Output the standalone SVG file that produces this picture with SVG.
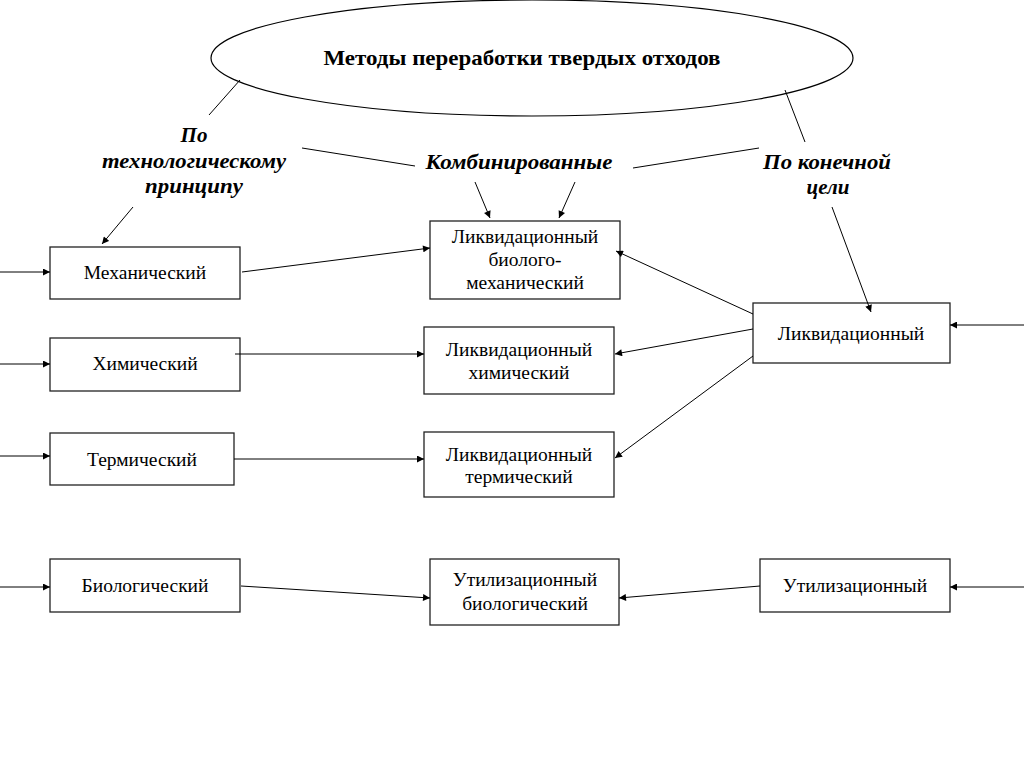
<svg xmlns="http://www.w3.org/2000/svg" width="1024" height="767" viewBox="0 0 1024 767">
<defs>
<marker id="ah" viewBox="0 0 10 10" refX="10" refY="5" markerWidth="9" markerHeight="7" markerUnits="userSpaceOnUse" orient="auto">
<path d="M0,0 L10,5 L0,10 z" fill="#000"/>
</marker>
</defs>
<style>
.box{fill:#fff;stroke:#222;stroke-width:1.3}
.t{font-family:"Liberation Serif","Times New Roman",serif;font-size:19.5px;fill:#000;text-anchor:middle}
.lb{font-family:"Liberation Serif","Times New Roman",serif;font-size:21px;font-weight:bold;font-style:italic;fill:#000;text-anchor:middle}
.ttl{font-family:"Liberation Serif","Times New Roman",serif;font-size:21px;font-weight:bold;fill:#000;text-anchor:middle}
.c{stroke:#000;stroke-width:1;fill:none}
.a{stroke:#000;stroke-width:1;fill:none;marker-end:url(#ah)}
</style>
<rect width="1024" height="767" fill="#fff"/>
<g id="title">
<ellipse cx="532" cy="58" rx="321" ry="58" fill="#fff" stroke="#000" stroke-width="1.2"/>
<text class="ttl" x="522" y="65" textLength="397" lengthAdjust="spacingAndGlyphs">Методы переработки твердых  отходов</text>
</g>
<g id="label-tech">
<text class="lb" x="194" y="142">По</text>
<text class="lb" x="194" y="168" textLength="184" lengthAdjust="spacingAndGlyphs">технологическому</text>
<text class="lb" x="194" y="193" textLength="98" lengthAdjust="spacingAndGlyphs">принципу</text>
</g>
<g id="label-comb">
<text class="lb" x="519" y="169" textLength="187" lengthAdjust="spacingAndGlyphs">Комбинированные</text>
</g>
<g id="label-goal">
<text class="lb" x="827" y="169" textLength="128" lengthAdjust="spacingAndGlyphs">По конечной</text>
<text class="lb" x="828" y="194">цели</text>
</g>
<g id="n-mech"><rect class="box" x="50" y="247" width="190" height="52"/><text class="t" x="145" y="279">Механический</text></g>
<g id="n-chem"><rect class="box" x="50" y="338" width="190" height="53"/><text class="t" x="145" y="370">Химический</text></g>
<g id="n-therm"><rect class="box" x="50" y="433" width="184" height="52"/><text class="t" x="142" y="466">Термический</text></g>
<g id="n-bio"><rect class="box" x="50" y="559" width="190" height="53"/><text class="t" x="145" y="592">Биологический</text></g>
<g id="n-lbm"><rect class="box" x="430" y="221" width="190" height="78"/>
<text class="t" x="525" y="243">Ликвидационный</text><text class="t" x="525" y="266">биолого-</text><text class="t" x="525" y="289">механический</text></g>
<g id="n-lch"><rect class="box" x="424" y="327" width="190" height="67"/>
<text class="t" x="519" y="356">Ликвидационный</text><text class="t" x="519" y="379">химический</text></g>
<g id="n-lth"><rect class="box" x="424" y="432" width="190" height="65"/>
<text class="t" x="519" y="461">Ликвидационный</text><text class="t" x="519" y="483">термический</text></g>
<g id="n-ubio"><rect class="box" x="430" y="559" width="189" height="66"/>
<text class="t" x="525" y="586">Утилизационный</text><text class="t" x="525" y="610">биологический</text></g>
<g id="n-liq"><rect class="box" x="753" y="303" width="197" height="60"/><text class="t" x="851" y="340">Ликвидационный</text></g>
<g id="n-util"><rect class="box" x="760" y="559" width="190" height="53"/><text class="t" x="855" y="592">Утилизационный</text></g>
<g id="connectors">
<line class="c" x1="240" y1="80" x2="209" y2="115"/>
<line class="c" x1="785" y1="90" x2="805" y2="142"/>
<line class="c" x1="302" y1="148" x2="415" y2="166"/>
<line class="c" x1="633" y1="168" x2="759" y2="148"/>
<line class="a" x1="475" y1="182" x2="490" y2="218"/>
<line class="a" x1="575" y1="182" x2="559" y2="218"/>
<line class="a" x1="133" y1="207" x2="102" y2="244"/>
<line class="a" x1="832" y1="207" x2="871" y2="312"/>
<line class="a" x1="0" y1="272" x2="50" y2="272"/>
<line class="a" x1="0" y1="364" x2="50" y2="364"/>
<line class="a" x1="0" y1="456" x2="50" y2="456"/>
<line class="a" x1="0" y1="587" x2="50" y2="587"/>
<line class="a" x1="1024" y1="325" x2="950" y2="325"/>
<line class="a" x1="1024" y1="587" x2="950" y2="587"/>
<line class="a" x1="242" y1="272" x2="430" y2="248"/>
<line class="a" x1="235" y1="354" x2="424" y2="354"/>
<line class="a" x1="234" y1="459" x2="424" y2="459"/>
<line class="a" x1="753" y1="314" x2="616" y2="251"/>
<line class="a" x1="753" y1="329" x2="615" y2="354"/>
<line class="a" x1="753" y1="356" x2="615" y2="458"/>
<line class="a" x1="241" y1="586" x2="430" y2="598"/>
<line class="a" x1="760" y1="586" x2="619" y2="598"/>
</g>
</svg>
